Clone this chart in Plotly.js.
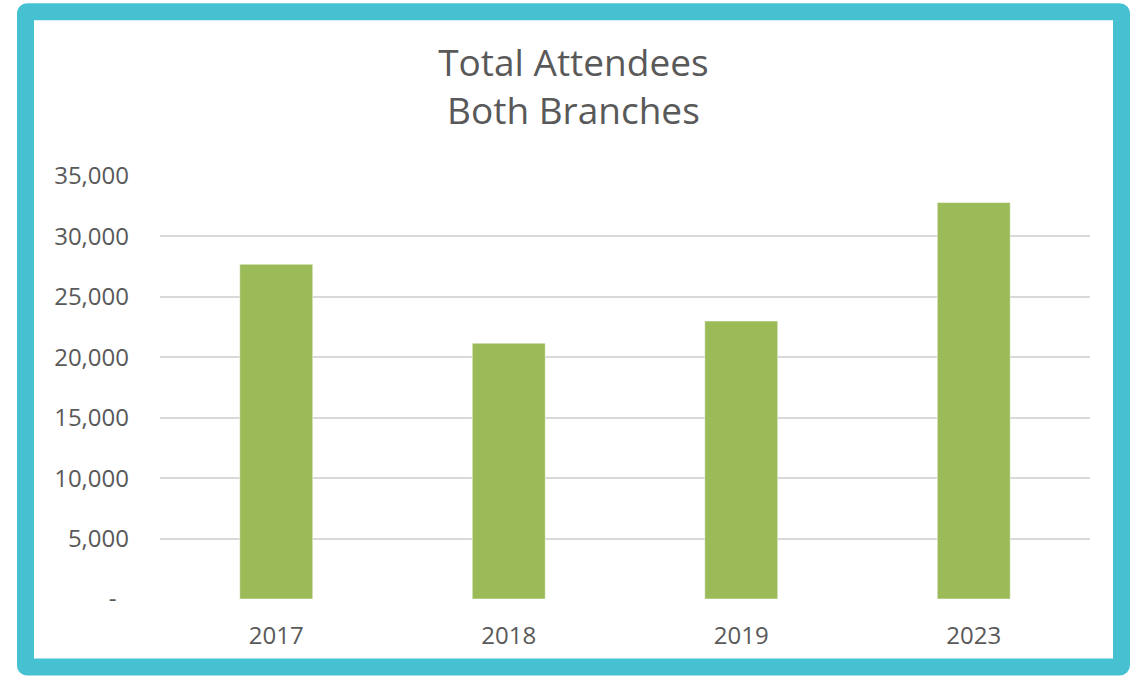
<!DOCTYPE html>
<html>
<head>
<meta charset="utf-8">
<script src="https://cdn.plot.ly/plotly-3.0.1.min.js"></script>
<style>
  html, body { margin: 0; padding: 0; background: #ffffff; }
  #chart { width: 1140px; height: 677px; }
</style>
</head>
<body>
<div id="chart"></div>
<script>
// ---- data ----
const years = ["2017", "2018", "2019", "2023"];
const attendees = [27700, 21170, 23000, 32800];
const yTickValues = [0, 5000, 10000, 15000, 20000, 25000, 30000, 35000];
const yTickLabels = ["-\u00a0\u00a0", "5,000", "10,000", "15,000", "20,000", "25,000", "30,000", "35,000"];
const chartTitle = "Total Attendees<br>Both Branches";

// ---- layout geometry (pixels) ----
const W = 1140, H = 677;
const L = 160, R = 50, T = 176, B = 77.5;
const pw = W - L - R, ph = H - T - B;
const px = v => (v - L) / pw;
const py = v => (H - B - v) / ph;

// rounded border (centre line of a 17px stroke)
const bx0 = 25.5, bx1 = 1121.5, by0 = 11.5, by1 = 667.5, r = 2;
const borderPath = [
  `M ${px(bx0 + r)},${py(by0)}`,
  `L ${px(bx1 - r)},${py(by0)}`,
  `Q ${px(bx1)},${py(by0)} ${px(bx1)},${py(by0 + r)}`,
  `L ${px(bx1)},${py(by1 - r)}`,
  `Q ${px(bx1)},${py(by1)} ${px(bx1 - r)},${py(by1)}`,
  `L ${px(bx0 + r)},${py(by1)}`,
  `Q ${px(bx0)},${py(by1)} ${px(bx0)},${py(by1 - r)}`,
  `L ${px(bx0)},${py(by0 + r)}`,
  `Q ${px(bx0)},${py(by0)} ${px(bx0 + r)},${py(by0)}`,
  'Z'
].join(' ');

const trace = {
  type: 'bar',
  x: years,
  y: attendees,
  marker: { color: '#9BBB59', line: { color: 'rgba(255,255,255,0.5)', width: 1 } },
  hoverinfo: 'x+y'
};

const layout = {
  width: W, height: H,
  margin: { l: L, r: R, t: T, b: B, pad: 0 },
  paper_bgcolor: '#ffffff',
  plot_bgcolor: '#ffffff',
  font: { family: '"Open Sans", sans-serif', color: '#595959', size: 24 },
  showlegend: false,
  bargap: 0.686,
  title: {
    text: chartTitle,
    font: { family: '"Open Sans", sans-serif', size: 37, color: '#595959' },
    xref: 'container', x: 0.503, xanchor: 'center',
    yref: 'container', y: 1 - 76 / H, yanchor: 'top'
  },
  xaxis: {
    type: 'category',
    showgrid: false,
    zeroline: false,
    showline: false,
    ticks: '',
    ticklabelstandoff: 20,
    tickfont: { size: 24, color: '#595959' }
  },
  yaxis: {
    range: [0, 35000],
    tickvals: yTickValues,
    ticktext: yTickLabels,
    showgrid: true,
    gridcolor: '#d9d9d9',
    gridwidth: 2,
    zeroline: false,
    showline: false,
    ticks: '',
    ticklabelstandoff: 30,
    tickfont: { size: 24, color: '#595959' }
  },
  shapes: [{
    type: 'path',
    xref: 'paper', yref: 'paper',
    path: borderPath,
    line: { color: '#45C1D1', width: 17 },
    fillcolor: 'rgba(0,0,0,0)',
    layer: 'above'
  }]
};

Plotly.newPlot('chart', [trace], layout, { displayModeBar: false, staticPlot: true });
</script>
</body>
</html>
